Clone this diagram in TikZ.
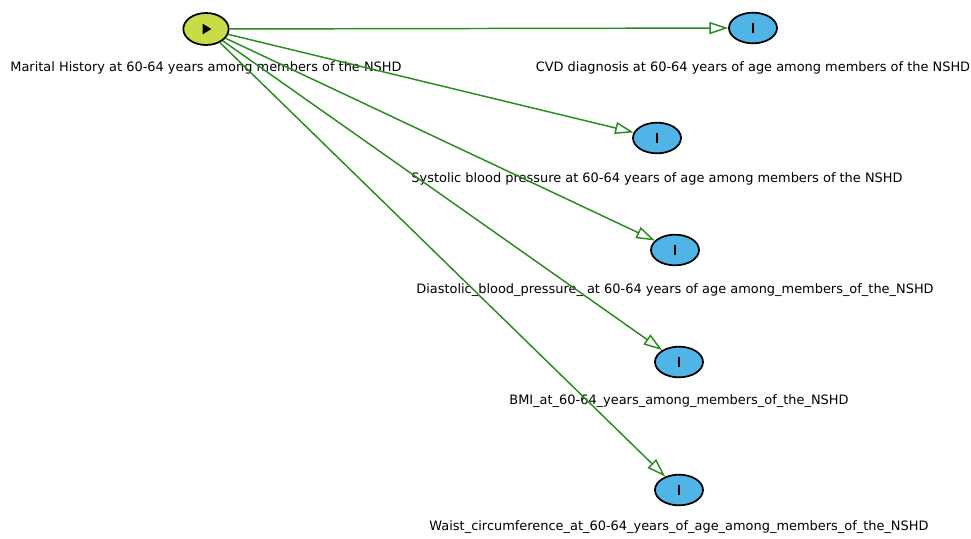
\documentclass[tikz,border=0pt]{standalone}
\usepackage{fontspec}
\setmainfont{DejaVu Sans}
\usetikzlibrary{arrows.meta,positioning,shapes.geometric}
\definecolor{srcfill}{RGB}{200,220,70}
\definecolor{outfill}{RGB}{80,180,230}
\definecolor{linkgreen}{RGB}{40,140,30}

\tikzset{
  srcnode/.style={ellipse, draw=black, line width=1.3pt, fill=srcfill,
    minimum width=34pt, minimum height=24pt, inner sep=0pt,
    path picture={\fill[black] (path picture bounding box.center) ++(-2.5pt,4pt)
      -- ++(6.5pt,-4pt) -- ++(-6.5pt,-4pt) -- cycle;}},
  outnode/.style={ellipse, draw=black, line width=1.3pt, fill=outfill,
    minimum width=36pt, minimum height=23pt, inner sep=0pt,
    path picture={\fill[black] (path picture bounding box.center) ++(-1.1pt,-4pt)
      rectangle ++(2.2pt,8pt);}},
  lab/.style={font=\fontsize{9.7}{11.6}\selectfont, inner sep=2pt},
  link/.style={draw=linkgreen, line width=1.1pt,
    -{Triangle[open, length=14pt, width=9pt]}}
}

\begin{document}
\begin{tikzpicture}[x=0.75pt, y=-0.75pt]
  \useasboundingbox (0,0) rectangle (971,539);

  \node[srcnode] (marital) at (206,29) {};
  \node[lab, below=10pt of marital] (maritallab) {Marital History at 60-64 years among members of the NSHD};

  \node[outnode] (cvd) at (753,28) {};
  \node[lab, below=11pt of cvd] (cvdlab) {CVD diagnosis at 60-64 years of age among members of the NSHD};

  \node[outnode] (sys) at (657,138) {};
  \node[lab, below=12pt of sys] (syslab) {Systolic blood pressure at 60-64 years of age among members of the NSHD};

  \node[outnode] (dia) at (675,250) {};
  \node[lab, below=11pt of dia] (dialab) {Diastolic\_blood\_pressure\_ at 60-64 years of age among\_members\_of\_the\_NSHD};

  \node[outnode] (bmi) at (679,362) {};
  \node[lab, below=10pt of bmi] (bmilab) {BMI\_at\_60-64\_years\_among\_members\_of\_the\_NSHD};

  \node[outnode] (waist) at (679,490) {};
  \node[lab, below=9pt of waist] (waistlab) {Waist\_circumference\_at\_60-64\_years\_of\_age\_among\_members\_of\_the\_NSHD};

  \foreach \t in {cvd,sys,dia,bmi,waist}
    \draw[link] (marital) -- (\t);
\end{tikzpicture}
\end{document}
